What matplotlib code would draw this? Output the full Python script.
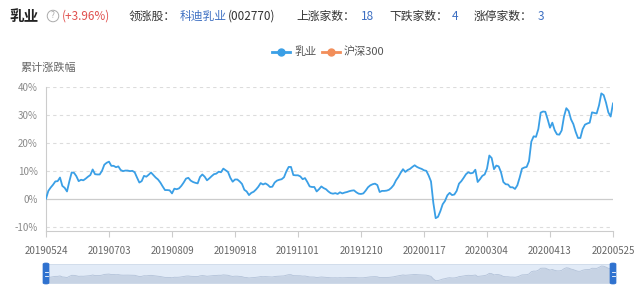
import matplotlib
matplotlib.use('Agg')
import matplotlib.pyplot as plt
from matplotlib.lines import Line2D
from matplotlib.patches import FancyBboxPatch

plt.rcParams['font.family'] = ['Noto Sans CJK SC', 'DejaVu Sans']

# ---- data ----
series_name = '乳业'
benchmark_name = '沪深300'
values = [
    0.0, 2.8, 4.0, 5.0, 6.2, 6.3, 7.6, 4.6, 3.9, 2.6,
    6.2, 9.4, 9.3, 8.1, 6.3, 6.8, 6.6, 7.2, 7.9, 8.5,
    10.5, 8.8, 8.7, 8.7, 10.0, 12.2, 12.9, 13.3, 11.8, 11.8,
    11.3, 11.6, 10.3, 9.9, 10.1, 10.1, 9.9, 10.0, 9.5, 7.6,
    5.8, 6.3, 8.2, 7.9, 8.6, 9.4, 8.5, 7.6, 6.9, 5.8,
    4.4, 3.1, 3.1, 3.0, 1.9, 3.6, 3.4, 3.7, 4.6, 5.8,
    7.2, 7.5, 6.5, 6.0, 5.7, 5.5, 7.8, 8.7, 7.9, 6.6,
    7.3, 8.1, 8.8, 9.0, 9.7, 9.5, 10.8, 10.2, 9.6, 7.5,
    6.1, 6.9, 6.9, 6.2, 5.3, 3.2, 2.6, 1.3, 2.1, 2.5,
    3.3, 4.3, 5.6, 5.1, 5.5, 5.0, 4.2, 4.3, 5.8, 6.5,
    6.8, 7.0, 7.7, 9.8, 11.4, 11.4, 8.5, 8.4, 8.4, 8.0,
    7.0, 7.4, 6.0, 4.4, 4.2, 4.2, 2.6, 3.4, 4.4, 3.8,
    3.4, 2.6, 2.0, 1.8, 2.0, 1.7, 2.3, 1.9, 2.2, 2.4,
    2.7, 2.9, 3.0, 2.3, 1.8, 1.7, 1.9, 2.9, 4.1, 4.8,
    5.2, 5.4, 4.9, 2.4, 2.8, 2.8, 2.9, 3.2, 3.9, 4.9,
    6.6, 7.8, 9.3, 10.6, 9.6, 10.3, 10.7, 11.4, 12.0, 11.4,
    11.0, 10.7, 10.2, 10.0, 8.3, 6.2, -1.5, -7.0, -6.5, -4.5,
    -2.0, -0.8, 1.2, 2.1, 1.3, 1.5, 2.8, 5.4, 6.3, 7.5,
    8.8, 9.5, 9.1, 9.3, 10.4, 6.0, 7.0, 8.2, 8.7, 10.8,
    15.5, 14.6, 10.6, 11.9, 11.6, 9.5, 6.0, 5.2, 5.1, 4.1,
    4.1, 3.5, 4.8, 7.6, 10.8, 11.2, 11.4, 13.5, 20.5, 22.4,
    22.2, 25.0, 30.9, 31.3, 31.2, 28.5, 25.5, 27.3, 24.6, 23.1,
    23.0, 24.5, 29.5, 32.5, 31.5, 28.5, 26.8, 24.0, 21.8, 21.8,
    25.0, 26.6, 27.0, 27.3, 31.0, 30.8, 30.6, 33.5, 37.8, 37.2,
    34.5, 31.0, 29.5, 34.2,
]
tick_labels = ['20190524', '20190703', '20190809', '20190918', '20191101',
               '20191210', '20200117', '20200304', '20200413', '20200525']
tick_step = 27
y_ticks = [-10, 0, 10, 20, 30, 40]

header_change = '(+3.96%)'
leader_name = '科迪乳业'
leader_code = '(002770)'
up_count = '18'
down_count = '4'
limit_up_count = '3'

# ---- styling ----
W, H = 640, 290
BLUE = '#3a9fe6'
ORANGE = '#f28e5a'
fig = plt.figure(figsize=(W / 100, H / 100), dpi=100)


def fx(px):
    return px / W


def fy(py):
    return 1 - py / H


left, right, top, bottom = 46, 613, 87.3, 231
ax = fig.add_axes([fx(left), fy(bottom), (right - left) / W, (bottom - top) / H])
x = list(range(len(values)))
ax.plot(x, values, color=BLUE, lw=1.3, solid_joinstyle='round', zorder=3)
ax.set_xlim(0, len(values) - 1)
ax.set_ylim(-11.6, 40)

for v in y_ticks:
    if v == 0:
        ax.axhline(v, color='#cccccc', lw=0.9, zorder=1)
    else:
        ax.axhline(v, color='#dcdcdc', lw=0.8, ls=(0, (3, 3)), zorder=1)

ax.set_yticks(y_ticks)
ax.set_yticklabels([f'{v}%' for v in y_ticks])
ax.tick_params(axis='y', length=0, pad=6, labelsize=7, labelcolor='#8a8a8a')
xt = list(range(0, len(values), tick_step))
ax.set_xticks(xt)
ax.set_xticklabels(tick_labels)
ax.tick_params(axis='x', length=4, width=0.8, color='#cccccc', pad=7,
               labelsize=7, labelcolor='#666666')
for s in ['top', 'right']:
    ax.spines[s].set_visible(False)
for s in ['left', 'bottom']:
    ax.spines[s].set_color('#cccccc')
    ax.spines[s].set_linewidth(0.8)

# y-axis name
fig.text(fx(20), fy(68), '累计涨跌幅', fontsize=8, color='#666666', va='center', ha='left')

# legend
ly = 52
fig.add_artist(Line2D([fx(272), fx(290)], [fy(ly), fy(ly)], color=BLUE, lw=2))
fig.add_artist(Line2D([fx(281)], [fy(ly)], color=BLUE, marker='o', markersize=5, lw=0))
fig.text(fx(294), fy(ly), series_name, fontsize=8, color='#555555', va='center', ha='left')
fig.add_artist(Line2D([fx(322), fx(340)], [fy(ly), fy(ly)], color=ORANGE, lw=2))
fig.add_artist(Line2D([fx(331)], [fy(ly)], color=ORANGE, marker='o', markersize=5, lw=0))
fig.text(fx(344), fy(ly), benchmark_name, fontsize=8, color='#555555', va='center', ha='left')

# header row
hy = 16
fig.text(fx(9), fy(hy), '乳业', fontsize=10.5, fontweight='bold', color='#222222', va='center')
fig.text(fx(53), fy(hy), '?', fontsize=6, color='#aaaaaa', va='center', ha='center',
         bbox=dict(boxstyle='circle,pad=0.15', fc='white', ec='#aaaaaa', lw=0.7))
fig.text(fx(62), fy(hy), header_change, fontsize=8.5, color='#e0514f', va='center')
fig.text(fx(129), fy(hy), '领涨股：', fontsize=8.5, color='#333333', va='center')
fig.text(fx(179.5), fy(hy), leader_name, fontsize=8.5, color='#3d6fc2', va='center')
fig.text(fx(228), fy(hy), leader_code, fontsize=8.5, color='#333333', va='center')
fig.text(fx(296), fy(hy), '上涨家数：', fontsize=8.5, color='#333333', va='center')
fig.text(fx(361), fy(hy), up_count, fontsize=8.5, color='#3d6fc2', va='center')
fig.text(fx(389), fy(hy), '下跌家数：', fontsize=8.5, color='#333333', va='center')
fig.text(fx(452), fy(hy), down_count, fontsize=8.5, color='#3d6fc2', va='center')
fig.text(fx(474), fy(hy), '涨停家数：', fontsize=8.5, color='#333333', va='center')
fig.text(fx(538), fy(hy), limit_up_count, fontsize=8.5, color='#3d6fc2', va='center')

# data-zoom slider
s_top, s_bot = 264, 283
sax = fig.add_axes([fx(left), fy(s_bot), (right - left) / W, (s_bot - s_top) / H])
sax.set_facecolor('#e2ebf7')
sax.fill_between(x, values, -30, color='#c7d3e4', lw=0)
sax.plot(x, values, color='#b3c2d8', lw=0.6)
sax.set_xlim(0, len(values) - 1)
sax.set_ylim(-14, 44)
sax.set_xticks([])
sax.set_yticks([])
for s in sax.spines.values():
    s.set_color('#d0dbe9')
    s.set_linewidth(0.6)

for hx in (left, right):
    fig.add_artist(FancyBboxPatch((fx(hx - 3), fy(s_bot + 1)), 6 / W, (s_bot - s_top + 2) / H,
                                  boxstyle='round,pad=0,rounding_size=0.004',
                                  transform=fig.transFigure, fc='#2f72cf', ec='#2f72cf', lw=0.5))
    for dy in (-2, 2):
        fig.add_artist(Line2D([fx(hx - 1.5), fx(hx + 1.5)],
                              [fy((s_top + s_bot) / 2 + dy)] * 2, color='white', lw=0.6))

fig.savefig('out.png', dpi=100)
